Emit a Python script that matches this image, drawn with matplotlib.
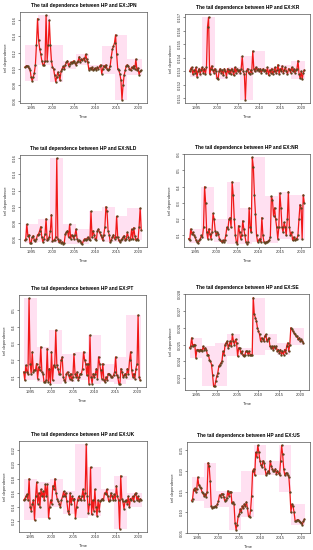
import numpy as np
import matplotlib
matplotlib.use("Agg")
import matplotlib.pyplot as plt
from matplotlib.patches import Rectangle

plt.rcParams['font.family'] = ['Liberation Sans', 'DejaVu Sans']

# Quarterly time axis 1993.5 .. 2020.75
time = [1993.5 + 0.25 * i for i in range(110)]

jpn = [0.102, 0.103,
       0.104, 0.103, 0.101, 0.099,
       0.090, 0.085, 0.090, 0.095,
       0.105, 0.130, 0.162, 0.135,
       0.125, 0.118, 0.110, 0.105,
       0.105, 0.110, 0.166, 0.110,
       0.130, 0.160, 0.130, 0.110,
       0.102, 0.100, 0.092, 0.084,
       0.090, 0.096, 0.092, 0.086,
       0.097, 0.100, 0.103, 0.100,
       0.105, 0.108, 0.110, 0.104,
       0.106, 0.108, 0.107, 0.109,
       0.110, 0.107, 0.105, 0.108,
       0.110, 0.115, 0.108, 0.112,
       0.111, 0.113, 0.110, 0.118,
       0.112, 0.108, 0.099, 0.101,
       0.100, 0.102, 0.098, 0.100,
       0.101, 0.099, 0.102, 0.100,
       0.103, 0.105, 0.094, 0.100,
       0.104, 0.102, 0.105, 0.100,
       0.098, 0.100, 0.104, 0.115,
       0.124, 0.128, 0.132, 0.142,
       0.118, 0.100, 0.098, 0.094,
       0.086, 0.062, 0.080, 0.092,
       0.098, 0.104, 0.105, 0.103,
       0.100, 0.098, 0.102, 0.101,
       0.104, 0.100, 0.112, 0.098,
       0.101, 0.093, 0.097, 0.098]

kr = [0.1530, 0.1532,
      0.1533, 0.1528, 0.1531, 0.1529,
      0.1533, 0.1526, 0.1530, 0.1532,
      0.1528, 0.1531, 0.1533, 0.1529,
      0.1532, 0.1528, 0.1533, 0.1563,
      0.1570, 0.1528, 0.1532, 0.1534,
      0.1531, 0.1529, 0.1532, 0.1530,
      0.1525, 0.1524, 0.1530, 0.1532,
      0.1529, 0.1531, 0.1527, 0.1532,
      0.1530, 0.1526, 0.1532, 0.1529,
      0.1531, 0.1528, 0.1532, 0.1530,
      0.1527, 0.1533, 0.1529, 0.1532,
      0.1530, 0.1531, 0.1529, 0.1532,
      0.1541, 0.1530, 0.1528, 0.1509,
      0.1530, 0.1532, 0.1529, 0.1528,
      0.1531, 0.1529, 0.1545, 0.1532,
      0.1530, 0.1533, 0.1531, 0.1532,
      0.1530, 0.1532, 0.1529, 0.1531,
      0.1532, 0.1530, 0.1531, 0.1529,
      0.1533, 0.1527, 0.1531, 0.1529,
      0.1532, 0.1528, 0.1530, 0.1533,
      0.1529, 0.1531, 0.1535, 0.1528,
      0.1532, 0.1530, 0.1534, 0.1529,
      0.1531, 0.1533, 0.1530, 0.1528,
      0.1532, 0.1531, 0.1529, 0.1533,
      0.1530, 0.1532, 0.1529, 0.1531,
      0.1532, 0.1538, 0.1528, 0.1525,
      0.1530, 0.1524, 0.1529, 0.1531]

nld = [0.058, 0.060,
       0.078, 0.063, 0.065, 0.055,
       0.055, 0.062, 0.064, 0.058,
       0.057, 0.060, 0.065, 0.066,
       0.070, 0.075, 0.062, 0.056,
       0.060, 0.066, 0.085, 0.058,
       0.060, 0.062, 0.070, 0.090,
       0.057, 0.058, 0.059, 0.062,
       0.160, 0.060, 0.056, 0.058,
       0.055, 0.056, 0.054, 0.055,
       0.066, 0.068, 0.070, 0.062,
       0.078, 0.060, 0.065, 0.063,
       0.060, 0.065, 0.072, 0.060,
       0.057, 0.058, 0.057, 0.055,
       0.054, 0.058, 0.060, 0.059,
       0.060, 0.062, 0.060, 0.058,
       0.094, 0.062, 0.070, 0.065,
       0.060, 0.058, 0.070, 0.072,
       0.068, 0.065, 0.062, 0.058,
       0.065, 0.075, 0.100, 0.094,
       0.070, 0.065, 0.056, 0.058,
       0.062, 0.065, 0.060, 0.062,
       0.088, 0.062, 0.058, 0.056,
       0.058, 0.060, 0.062, 0.064,
       0.058, 0.060, 0.068, 0.062,
       0.058, 0.060, 0.072, 0.060,
       0.074, 0.064, 0.058, 0.060,
       0.059, 0.075, 0.098, 0.071]

nr = [0.080, 0.070,
      0.140, 0.110, 0.120, 0.100,
      0.090, 0.070, 0.060, 0.055,
      0.070, 0.080, 0.100, 0.090,
      0.150, 0.400, 0.300, 0.120,
      0.080, 0.140, 0.110, 0.080,
      0.120, 0.235, 0.200, 0.130,
      0.100, 0.120, 0.110, 0.080,
      0.070, 0.060, 0.070, 0.060,
      0.070, 0.100, 0.150, 0.140,
      0.200, 0.210, 0.150, 0.430,
      0.350, 0.200, 0.100, 0.060,
      0.050, 0.160, 0.120, 0.080,
      0.100, 0.190, 0.140, 0.100,
      0.060, 0.050, 0.060, 0.270,
      0.150, 0.120, 0.580, 0.520,
      0.350, 0.230, 0.100, 0.060,
      0.070, 0.080, 0.060, 0.210,
      0.100, 0.060, 0.055, 0.060,
      0.060, 0.065, 0.070, 0.090,
      0.340, 0.320, 0.220, 0.270,
      0.200, 0.150, 0.080, 0.150,
      0.360, 0.270, 0.150, 0.120,
      0.180, 0.150, 0.100, 0.200,
      0.370, 0.150, 0.100, 0.120,
      0.070, 0.090, 0.070, 0.080,
      0.080, 0.100, 0.200, 0.290,
      0.270, 0.080, 0.350, 0.300]

pt = [0.130, 0.080,
      0.170, 0.130, 0.120, 0.570,
      0.180, 0.120, 0.250, 0.130,
      0.140, 0.140, 0.180, 0.090,
      0.160, 0.140, 0.280, 0.130,
      0.120, 0.070, 0.070, 0.080,
      0.270, 0.070, 0.150, 0.060,
      0.250, 0.080, 0.170, 0.160,
      0.380, 0.170, 0.150, 0.120,
      0.120, 0.200, 0.220, 0.100,
      0.080, 0.070, 0.120, 0.130,
      0.110, 0.090, 0.120, 0.080,
      0.100, 0.240, 0.120, 0.100,
      0.130, 0.080, 0.100, 0.120,
      0.120, 0.150, 0.250, 0.200,
      0.180, 0.110, 0.180, 0.060,
      0.350, 0.100, 0.060, 0.120,
      0.100, 0.120, 0.150, 0.090,
      0.220, 0.180, 0.140, 0.090,
      0.180, 0.080, 0.070, 0.100,
      0.080, 0.120, 0.120, 0.110,
      0.100, 0.100, 0.110, 0.130,
      0.220, 0.110, 0.100, 0.060,
      0.060, 0.150, 0.130, 0.100,
      0.110, 0.120, 0.100, 0.150,
      0.120, 0.200, 0.250, 0.140,
      0.100, 0.120, 0.090, 0.150,
      0.180, 0.470, 0.100, 0.080]

se = [0.0248, 0.0249,
      0.0254, 0.0249, 0.0250, 0.0250,
      0.0242, 0.0247, 0.0247, 0.0246,
      0.0247, 0.0247, 0.0246, 0.0249,
      0.0247, 0.0248, 0.0247, 0.0244,
      0.0244, 0.0241, 0.0240, 0.0238,
      0.0232, 0.0225, 0.0225, 0.0228,
      0.0231, 0.0233, 0.0237, 0.0238,
      0.0239, 0.0240, 0.0246, 0.0244,
      0.0250, 0.0251, 0.0252, 0.0248,
      0.0250, 0.0252, 0.0249, 0.0256,
      0.0252, 0.0250, 0.0253, 0.0251,
      0.0243, 0.0248, 0.0248, 0.0245,
      0.0246, 0.0244, 0.0243, 0.0244,
      0.0246, 0.0246, 0.0244, 0.0246,
      0.0244, 0.0244, 0.0244, 0.0278,
      0.0268, 0.0266, 0.0264, 0.0260,
      0.0258, 0.0256, 0.0252, 0.0254,
      0.0253, 0.0252, 0.0255, 0.0256,
      0.0252, 0.0253, 0.0254, 0.0249,
      0.0248, 0.0249, 0.0247, 0.0249,
      0.0248, 0.0249, 0.0246, 0.0247,
      0.0245, 0.0247, 0.0244, 0.0246,
      0.0244, 0.0247, 0.0245, 0.0249,
      0.0251, 0.0246, 0.0250, 0.0260,
      0.0259, 0.0258, 0.0257, 0.0256,
      0.0255, 0.0255, 0.0253, 0.0254,
      0.0252, 0.0253, 0.0252, 0.0251]

uk = [0.150, 0.152,
      0.155, 0.158, 0.150, 0.180,
      0.140, 0.135, 0.145, 0.150,
      0.122, 0.155, 0.175, 0.145,
      0.160, 0.140, 0.165, 0.155,
      0.162, 0.150, 0.172, 0.155,
      0.172, 0.125, 0.140, 0.150,
      0.145, 0.170, 0.165, 0.180,
      0.160, 0.152, 0.148, 0.145,
      0.140, 0.150, 0.155, 0.162,
      0.155, 0.160, 0.148, 0.135,
      0.130, 0.160, 0.145, 0.155,
      0.150, 0.152, 0.125, 0.140,
      0.150, 0.155, 0.152, 0.150,
      0.155, 0.165, 0.150, 0.160,
      0.228, 0.155, 0.132, 0.145,
      0.196, 0.130, 0.150, 0.135,
      0.165, 0.140, 0.128, 0.150,
      0.135, 0.148, 0.150, 0.152,
      0.150, 0.160, 0.158, 0.165,
      0.155, 0.148, 0.150, 0.160,
      0.155, 0.150, 0.158, 0.150,
      0.170, 0.155, 0.150, 0.110,
      0.184, 0.152, 0.148, 0.138,
      0.148, 0.150, 0.145, 0.155,
      0.140, 0.152, 0.150, 0.155,
      0.148, 0.158, 0.160, 0.150,
      0.155, 0.148, 0.152, 0.150]

us = [0.128, 0.133,
      0.155, 0.158, 0.150, 0.156,
      0.185, 0.165, 0.162, 0.158,
      0.150, 0.146, 0.140, 0.144,
      0.138, 0.150, 0.220, 0.212,
      0.175, 0.115, 0.110, 0.112,
      0.112, 0.115, 0.113, 0.120,
      0.128, 0.142, 0.138, 0.145,
      0.144, 0.138, 0.128, 0.130,
      0.134, 0.152, 0.140, 0.148,
      0.150, 0.122, 0.125, 0.120,
      0.075, 0.058, 0.070, 0.090,
      0.095, 0.108, 0.100, 0.115,
      0.110, 0.120, 0.115, 0.125,
      0.110, 0.090, 0.088, 0.105,
      0.140, 0.200, 0.205, 0.190,
      0.245, 0.235, 0.262, 0.245,
      0.225, 0.215, 0.210, 0.225,
      0.220, 0.205, 0.190, 0.195,
      0.200, 0.196, 0.225, 0.212,
      0.205, 0.200, 0.200, 0.205,
      0.192, 0.200, 0.195, 0.190,
      0.225, 0.262, 0.240, 0.205,
      0.190, 0.195, 0.195, 0.190,
      0.185, 0.150, 0.100, 0.120,
      0.115, 0.100, 0.080, 0.078,
      0.082, 0.082, 0.080, 0.076,
      0.075, 0.070, 0.078, 0.083]

names = ["JPN", "KR", "NLD", "NR", "PT", "SE", "UK", "US"]
series = [jpn, kr, nld, nr, pt, se, uk, us]
yticks = [
    [0.06, 0.08, 0.10, 0.12, 0.14, 0.16],
    [0.151, 0.152, 0.153, 0.154, 0.155, 0.156, 0.157],
    [0.06, 0.08, 0.10, 0.12, 0.14, 0.16],
    [0.1, 0.2, 0.3, 0.4, 0.5, 0.6],
    [0.1, 0.2, 0.3, 0.4, 0.5],
    [0.023, 0.024, 0.025, 0.026, 0.027, 0.028],
    [0.12, 0.14, 0.16, 0.18, 0.20, 0.22],
    [0.05, 0.10, 0.15, 0.20, 0.25],
]
ytick_fmt = ["%.2f", "%.3f", "%.2f", "%.1f", "%.1f", "%.3f", "%.2f", "%.2f"]
xticks = [1995, 2000, 2005, 2010, 2015, 2020]
shade_edges = [1993.5, 1996.5, 1999.5, 2002.5, 2005.5, 2008.5, 2011.5, 2014.5, 2017.5, 2021.0]

W, H = 313, 550
fig = plt.figure(figsize=(W / 100, H / 100), dpi=100)

# axes boxes in pixels: (left, top, right, bottom)
boxes = [
    (20, 12, 147, 103), (185, 14, 310, 103),
    (20, 155, 147, 247), (184, 154, 310, 247),
    (19, 295, 146, 387), (185, 294, 309, 390),
    (19, 441, 147, 532), (187, 442, 310, 533),
]

for k, (name, vals) in enumerate(zip(names, series)):
    l, t, r, b = boxes[k]
    ax = fig.add_axes([l / W, 1 - b / H, (r - l) / W, (b - t) / H])
    tt = np.array(time)
    vv = np.array(vals)
    # pink range blocks
    for a0, a1 in zip(shade_edges[:-1], shade_edges[1:]):
        m = (tt >= a0) & (tt < a1)
        if m.any():
            lo, hi = vv[m].min(), vv[m].max()
            ax.add_patch(Rectangle((a0, lo), a1 - a0, hi - lo,
                                   facecolor="#ffe0f1", edgecolor="none", zorder=0))
    ax.plot(tt, vv, color="#f01818", lw=0.9, zorder=2)
    ax.plot(tt, vv, ls="none", marker="o", ms=1.7, mew=0, color="#5e4420", zorder=3)
    ax.margins(x=0.04, y=0.04)
    ax.set_xticks(xticks)
    ax.set_xticklabels([str(x) for x in xticks])
    ax.set_yticks(yticks[k])
    ax.set_yticklabels([ytick_fmt[k] % v for v in yticks[k]], rotation=90, va="center")
    ax.tick_params(labelsize=3.0, length=1.5, width=0.4, pad=1, colors="#333333")
    for sp in ax.spines.values():
        sp.set_linewidth(0.5)
        sp.set_color("#555555")
    ax.set_title("The tail dependence between HP and EX:" + name,
                 fontsize=3.5, fontweight="bold", pad=3.5)
    ax.set_xlabel("Time", fontsize=3.0, labelpad=3, color="#333333")
    ax.set_ylabel("tail dependence", fontsize=3.0, labelpad=3, color="#333333")
    ax.set_facecolor("white")

fig.savefig("out.png", dpi=100)
